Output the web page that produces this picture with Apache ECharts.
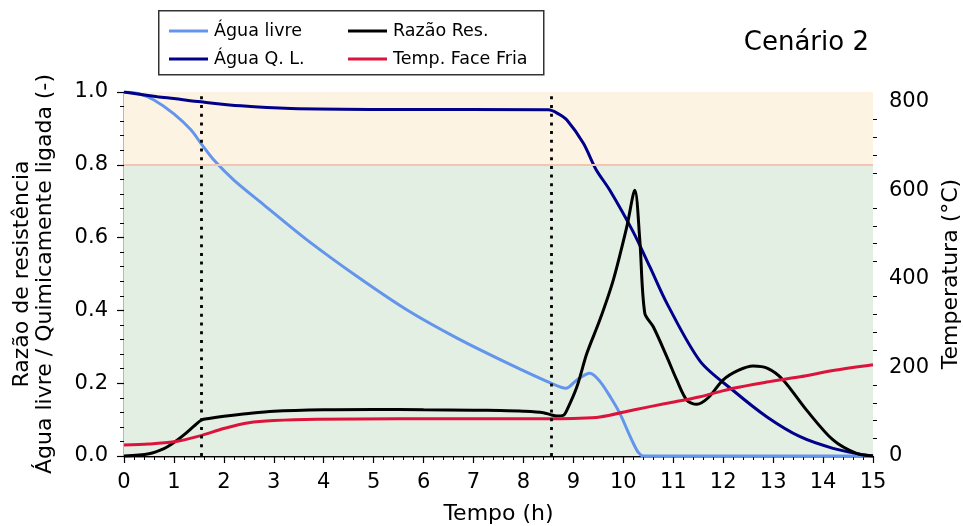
<!DOCTYPE html>
<html>
<head>
<meta charset="utf-8">
<script src="https://cdn.jsdelivr.net/npm/echarts@6.0.0/dist/echarts.min.js"></script>
<style>
html, body { margin: 0; padding: 0; background: #fff; }
#chart { width: 963px; height: 526px; }
</style>
</head>
<body>
<div id="chart"></div>
<script>
// Água livre
var livreT = [0, 0.3, 0.6, 1.0, 1.34, 1.54, 1.8, 2.2, 2.8, 3.67, 4.67, 5.67, 6.68, 7.68, 8.55, 8.85, 9.07, 9.33, 9.53, 9.75, 9.93, 10.1, 10.2, 10.3, 10.4, 11, 15]
var livreV = [1.0, 0.995, 0.978, 0.94, 0.896, 0.859, 0.813, 0.758, 0.69, 0.593, 0.493, 0.401, 0.323, 0.255, 0.2, 0.186, 0.209, 0.227, 0.205, 0.16, 0.117, 0.065, 0.035, 0.01, 0, 0, 0]
// Água quimicamente ligada
var qlT = [0, 0.67, 1.0, 1.54, 2.34, 3.34, 5.34, 8.5, 8.7, 8.87, 9.2, 9.45, 9.73, 10.2, 10.53, 10.87, 11.54, 12.2, 12.87, 13.54, 14.2, 14.74, 15]
var qlV = [1.0, 0.987, 0.982, 0.973, 0.962, 0.955, 0.952, 0.951, 0.94, 0.923, 0.859, 0.788, 0.73, 0.615, 0.52, 0.42, 0.26, 0.18, 0.108, 0.053, 0.021, 0.005, 0]
// Razão de resistência
var razaoT = [0, 0.5, 0.8, 1.0, 1.2, 1.4, 1.55, 1.7, 2.0, 2.5, 3.0, 4.0, 5.0, 6.0, 7.0, 7.53, 8.0, 8.4, 8.55, 8.67, 8.8, 8.87, 9.07, 9.27, 9.53, 9.8, 10.07, 10.23, 10.33, 10.43, 10.6, 10.87, 11.07, 11.27, 11.47, 11.7, 12.0, 12.3, 12.6, 12.9, 13.2, 13.67, 14.2, 14.67, 15]
var razaoV = [0, 0.006, 0.02, 0.037, 0.058, 0.082, 0.099, 0.103, 0.109, 0.117, 0.123, 0.127, 0.128, 0.127, 0.126, 0.125, 0.123, 0.119, 0.113, 0.11, 0.112, 0.126, 0.19, 0.282, 0.374, 0.484, 0.63, 0.73, 0.593, 0.392, 0.355, 0.273, 0.209, 0.154, 0.142, 0.16, 0.209, 0.235, 0.247, 0.24, 0.209, 0.126, 0.044, 0.007, 0]
// Temperatura da face fria (°C)
var tempT = [0, 0.5, 1.0, 1.5, 2.0, 2.5, 3.0, 3.86, 5.5, 7.0, 8.5, 9.0, 9.53, 10.2, 10.87, 11.54, 12.2, 12.87, 13.54, 14.2, 15]
var tempV = [25, 27, 32, 45, 62, 75, 80, 83, 84, 84, 84, 85, 88, 104, 119, 134, 153, 167, 179, 193, 206]

var eventTimes = [1.55, 8.55] // linhas pontilhadas
var limiteRazao = 0.8
var tempTicks = [0, 200, 400, 600, 800]
var tempMax = 822.6

function pares (t, v) {
  return t.map(function (x, i) { return [x, v[i]] })
}

var tempMinor = []
for (var m = 40; m < 800; m += 40) {
  if (m % 200 !== 0) tempMinor.push(m)
}

var fonte = 'DejaVu Sans'
var chart = echarts.init(document.getElementById('chart'))

function linha (nome, dados, cor, eixo) {
  return {
    name: nome,
    type: 'line',
    yAxisIndex: eixo,
    data: dados,
    symbol: 'none',
    smooth: 0.3,
    lineStyle: { color: cor, width: 3 },
    itemStyle: { color: cor },
    z: 3
  }
}

var legendaBase = {
  orient: 'vertical',
  top: 17,
  icon: 'rect',
  itemWidth: 39,
  itemHeight: 3,
  itemGap: 10,
  textStyle: { fontSize: 17.5, color: '#000', fontFamily: fonte, padding: [0, 0, 0, 1] }
}

chart.setOption({
  animation: false,
  textStyle: { fontFamily: fonte },
  title: {
    text: 'Cenário 2',
    right: 89,
    top: 25,
    textStyle: { fontSize: 26, fontWeight: 'normal', color: '#000', fontFamily: fonte }
  },
  graphic: [{
    type: 'rect',
    left: 158,
    top: 10,
    z: 0,
    shape: { width: 385, height: 64 },
    style: { fill: '#fff', stroke: '#333', lineWidth: 1.5 }
  }],
  legend: [
    Object.assign({}, legendaBase, { data: ['Água livre', 'Água Q. L.'], left: 164 }),
    Object.assign({}, legendaBase, { data: ['Razão Res.', 'Temp. Face Fria'], left: 343 })
  ],
  grid: { left: 124, right: 90, top: 92, bottom: 70, outerBoundsMode: 'none', containLabel: false },
  xAxis: [
    {
      type: 'value',
      min: 0,
      max: 15,
      interval: 1,
      name: 'Tempo (h)',
      nameLocation: 'middle',
      nameGap: 47,
      nameTextStyle: { fontSize: 22, color: '#000', fontFamily: fonte },
      axisLine: { lineStyle: { color: '#000', width: 1.3 } },
      axisTick: { length: 7, lineStyle: { color: '#000', width: 1.2 } },
      minorTick: { show: true, splitNumber: 5, length: 4, lineStyle: { color: '#000', width: 1 } },
      axisLabel: { fontSize: 21, color: '#000', margin: 16, fontFamily: fonte },
      splitLine: { show: false }
    },
    {
      type: 'value',
      position: 'top',
      min: 0,
      max: 15,
      axisLine: { lineStyle: { color: '#000', width: 1.3 } },
      axisTick: { show: false },
      axisLabel: { show: false },
      splitLine: { show: false }
    }
  ],
  yAxis: [
    {
      type: 'value',
      min: 0,
      max: 1,
      interval: 0.2,
      name: 'Razão de resistência\nÁgua livre / Quimicamente ligada (-)',
      nameLocation: 'middle',
      nameGap: 67,
      nameTextStyle: { fontSize: 22, color: '#000', fontFamily: fonte, lineHeight: 23 },
      axisLine: { show: true, lineStyle: { color: '#000', width: 1.3 } },
      axisTick: { show: true, length: 7, lineStyle: { color: '#000', width: 1.2 } },
      minorTick: { show: true, splitNumber: 5, length: 4, lineStyle: { color: '#000', width: 1 } },
      axisLabel: { fontSize: 21, color: '#000', margin: 16, fontFamily: fonte, formatter: function (v) { return v.toFixed(1) } },
      splitLine: { show: false }
    },
    {
      type: 'value',
      position: 'right',
      min: 0,
      max: tempMax,
      name: 'Temperatura (°C)',
      nameLocation: 'middle',
      nameRotate: 90,
      nameGap: 65,
      nameTextStyle: { fontSize: 22, color: '#000', fontFamily: fonte },
      axisLine: { show: true, lineStyle: { color: '#000', width: 1.3 } },
      axisTick: { show: true, length: 7, customValues: tempTicks, lineStyle: { color: '#000', width: 1.2 } },
      axisLabel: { fontSize: 21, color: '#000', margin: 16, fontFamily: fonte, customValues: tempTicks },
      splitLine: { show: false }
    },
    {
      type: 'value',
      position: 'right',
      min: 0,
      max: tempMax,
      axisLine: { show: false },
      axisTick: { show: true, length: 4, customValues: tempMinor, lineStyle: { color: '#000', width: 1 } },
      axisLabel: { show: false },
      splitLine: { show: false }
    }
  ],
  series: [
    {
      name: 'fundo',
      type: 'line',
      yAxisIndex: 0,
      data: [],
      silent: true,
      z: 1,
      markArea: {
        silent: true,
        label: { show: false },
        data: [
          [{ yAxis: limiteRazao, itemStyle: { color: '#fdf3e3' } }, { yAxis: 1 }],
          [{ yAxis: 0, itemStyle: { color: '#e3efe3' } }, { yAxis: limiteRazao }]
        ]
      },
      markLine: {
        silent: true,
        symbol: 'none',
        label: { show: false },
        data: [
          { yAxis: limiteRazao, lineStyle: { color: '#f6c3b5', width: 2, type: 'solid' } }
        ].concat(eventTimes.map(function (t) {
          return { xAxis: t, lineStyle: { color: '#000', width: 2.8, type: [3, 5.7] } }
        }))
      }
    },
    linha('Água livre', pares(livreT, livreV), '#6495ED', 0),
    linha('Água Q. L.', pares(qlT, qlV), '#00008B', 0),
    linha('Razão Res.', pares(razaoT, razaoV), '#000000', 0),
    linha('Temp. Face Fria', pares(tempT, tempV), '#DC143C', 1)
  ]
})
</script>
</body>
</html>
